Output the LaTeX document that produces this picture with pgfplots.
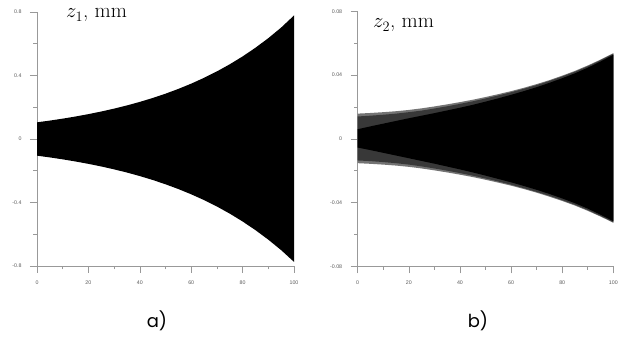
\documentclass[border=0pt]{standalone}
\usepackage{fontspec}
\usepackage{pgfplots}
\pgfplotsset{compat=1.18}
\newfontfamily\tickfont{Liberation Sans}
\newfontfamily\capfont{Poppins}
\begin{document}
\begin{tikzpicture}
\useasboundingbox (0bp,0bp) rectangle (619bp,337bp);
\pgfplotsset{panel/.style={
  scale only axis, enlargelimits=false, xmin=0, xmax=100,
  axis x line*=bottom, axis y line*=left,
  axis line style={draw=black!40, line width=0.6bp, -},
  tick style={draw=black!40, line width=0.5bp},
  tick align=outside, major tick length=7bp, minor tick length=3.5bp,
  xtick={0,20,...,100}, minor xtick={10,30,...,90},
  xticklabels={0,20,40,60,80,100},
  scaled y ticks=false, scaled x ticks=false,
  ticklabel style={font=\tickfont\fontsize{5.3}{6}\selectfont, text=black!65},
  xticklabel style={yshift=-4bp},
  yticklabel style={xshift=-5bp},
}}
% ---------- panel a ----------
\begin{axis}[panel, at={(37bp,71bp)}, anchor=south west, width=257bp, height=254bp,
  ymin=-0.8, ymax=0.8,
  ytick={-0.8,-0.4,0,0.4,0.8}, minor ytick={-0.6,-0.2,0.2,0.6},
  yticklabels={-0.8,-0.4,0,0.4,0.8}]
\addplot[fill=black, draw=none] coordinates {
(0,0.1050) (5,0.1160) (10,0.1282) (15,0.1417) (20,0.1566) (25,0.1731)
(30,0.1913) (35,0.2114) (40,0.2336) (45,0.2582) (50,0.2854) (55,0.3154)
(60,0.3486) (65,0.3852) (70,0.4257) (75,0.4705) (80,0.5200) (85,0.5747)
(90,0.6351) (95,0.7019) (100,0.7780)
(100,-0.7740) (95,-0.7000) (90,-0.6340) (85,-0.5740) (80,-0.5195) (75,-0.4700)
(70,-0.4252) (65,-0.3848) (60,-0.3483) (55,-0.3152) (50,-0.2852) (45,-0.2580)
(40,-0.2335) (35,-0.2113) (30,-0.1912) (25,-0.1730) (20,-0.1566) (15,-0.1417)
(10,-0.1282) (5,-0.1160) (0,-0.1050)} \closedcycle;
\end{axis}
\node[anchor=base west, inner sep=0pt] at (66bp,319bp) {\fontsize{21}{21}\selectfont $z_1$, mm};
% ---------- panel b ----------
\begin{axis}[panel, at={(357.7bp,70.7bp)}, anchor=south west, width=255.6bp, height=255bp,
  ymin=-0.08, ymax=0.08,
  ytick={-0.08,-0.04,0,0.04,0.08}, minor ytick={-0.06,-0.02,0.02,0.06},
  yticklabels={0.08,-0.04,0,0.04,0.08}, yticklabels={-0.08,-0.04,0,0.04,0.08}]
% outer grey fringe
\addplot[fill=black!55, draw=none] coordinates {
(0,0.0158) (5,0.0162) (10,0.0167) (15,0.0173) (20,0.0181) (25,0.0191)
(30,0.0203) (35,0.0216) (40,0.0230) (45,0.0245) (50,0.0262) (55,0.0280)
(60,0.0299) (65,0.0320) (70,0.0343) (75,0.0368) (80,0.0396) (85,0.0426)
(90,0.0460) (95,0.0497) (100,0.0537)
(100,-0.0527) (95,-0.0488) (90,-0.0452) (85,-0.0419) (80,-0.0390) (75,-0.0363)
(70,-0.0338) (65,-0.0315) (60,-0.0294) (55,-0.0275) (50,-0.0257) (45,-0.0240)
(40,-0.0225) (35,-0.0211) (30,-0.0198) (25,-0.0186) (20,-0.0176) (15,-0.0168)
(10,-0.0162) (5,-0.0157) (0,-0.0153)};
% dark grey band
\addplot[fill=black!78, draw=none] coordinates {
(0,0.0140) (5,0.0145) (10,0.0151) (15,0.0158) (20,0.0167) (25,0.0177)
(30,0.0190) (35,0.0204) (40,0.0219) (45,0.0235) (50,0.0253) (55,0.0272)
(60,0.0292) (65,0.0314) (70,0.0337) (75,0.0363) (80,0.0391) (85,0.0421)
(90,0.0455) (95,0.0493) (100,0.0533)
(100,-0.0523) (95,-0.0484) (90,-0.0447) (85,-0.0414) (80,-0.0385) (75,-0.0358)
(70,-0.0333) (65,-0.0310) (60,-0.0288) (55,-0.0268) (50,-0.0249) (45,-0.0231)
(40,-0.0215) (35,-0.0200) (30,-0.0186) (25,-0.0173) (20,-0.0162) (15,-0.0153)
(10,-0.0146) (5,-0.0140) (0,-0.0136)};
% inner black core
\addplot[fill=black, draw=none] coordinates {
(0,0.0060) (5,0.0078) (10,0.0095) (15,0.0112) (20,0.0129) (25,0.0145)
(30,0.0161) (35,0.0178) (40,0.0195) (45,0.0213) (50,0.0233) (55,0.0254)
(60,0.0276) (65,0.0299) (70,0.0324) (75,0.0351) (80,0.0380) (85,0.0411)
(90,0.0446) (95,0.0485) (100,0.0527)
(100,-0.0517) (95,-0.0476) (90,-0.0438) (85,-0.0404) (80,-0.0374) (75,-0.0346)
(70,-0.0320) (65,-0.0296) (60,-0.0273) (55,-0.0252) (50,-0.0231) (45,-0.0211)
(40,-0.0192) (35,-0.0174) (30,-0.0156) (25,-0.0139) (20,-0.0122) (15,-0.0105)
(10,-0.0088) (5,-0.0071) (0,-0.0055)};
\end{axis}
\node[anchor=base west, inner sep=0pt] at (373bp,309bp) {\fontsize{21}{21}\selectfont $z_2$, mm};
% ---------- captions ----------
\node at (157bp,16bp) {\capfont\fontsize{18}{18}\selectfont a)};
\node at (478bp,16bp) {\capfont\fontsize{18}{18}\selectfont b)};
\end{tikzpicture}
\end{document}
